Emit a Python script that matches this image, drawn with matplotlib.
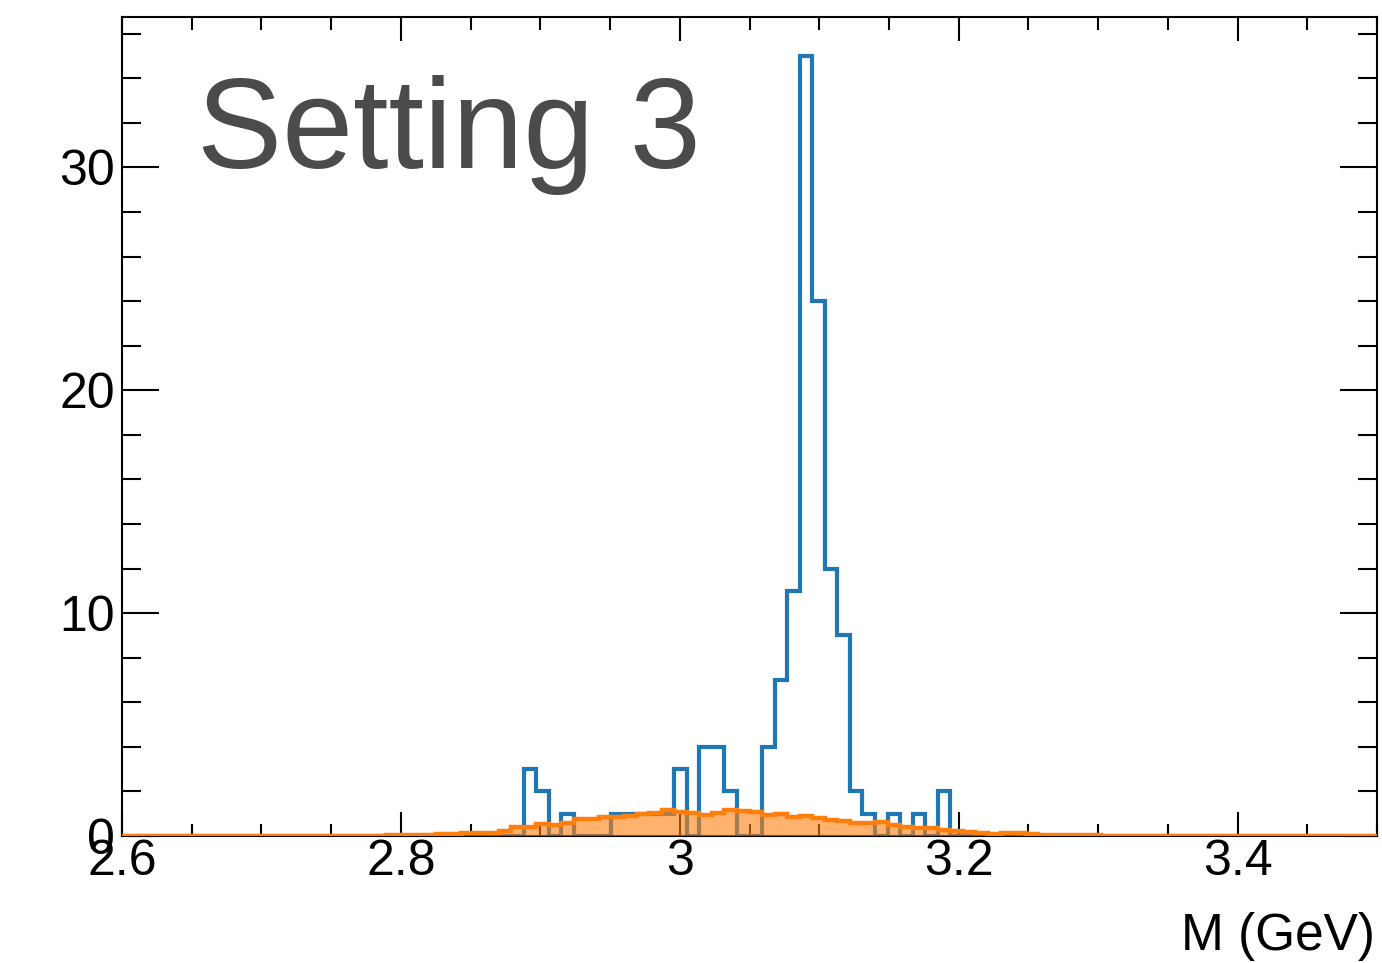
import numpy as np
import matplotlib
matplotlib.use('Agg')
import matplotlib.pyplot as plt
from matplotlib.ticker import MultipleLocator, FuncFormatter

plt.rcParams['font.family'] = ['Liberation Sans', 'DejaVu Sans']

# 100 bins between 2.6 and 3.5 GeV
edges = np.linspace(2.6, 3.5, 101)

# blue histogram (counts per bin)
data_counts = [0] * 32 + [
    3, 2, 0, 1, 0, 0, 0, 1, 1, 1,      # 32-41
    1, 1, 3, 0, 4, 4, 2, 0, 0, 4,      # 42-51
    7, 11, 35, 24, 12, 9, 2, 1, 0, 1,  # 52-61
    0, 1, 0, 2,                        # 62-65
] + [0] * 34

# orange filled histogram
model_vals = [0] * 15 + [
    0.005, 0.01, 0.01, 0.01, 0.02,      # 15-19
    0.02, 0.03, 0.04, 0.05, 0.05,       # 20-24
    0.08, 0.10, 0.12, 0.12, 0.15,       # 25-29
    0.24, 0.40, 0.42, 0.55, 0.50,       # 30-34
    0.60, 0.74, 0.78, 0.86, 0.86,       # 35-39
    0.90, 1.00, 1.01, 1.16, 1.08,       # 40-44
    1.02, 0.95, 1.04, 1.16, 1.12,       # 45-49
    1.06, 0.95, 1.00, 0.86, 0.90,       # 50-54
    0.80, 0.72, 0.69, 0.60, 0.60,       # 55-59
    0.62, 0.50, 0.40, 0.35, 0.34,       # 60-64
    0.29, 0.24, 0.20, 0.14, 0.10,       # 65-69
    0.14, 0.12, 0.08, 0.06, 0.04,       # 70-74
    0.04, 0.04, 0.03, 0.02, 0.02,       # 75-79
    0.01, 0.01, 0.01, 0.005, 0.005,     # 80-84
] + [0] * 15

blue = '#1f77b4'
orange = '#ff7f0e'

fig = plt.figure(figsize=(13.82, 9.63), dpi=100)
ax = fig.add_axes([0.0883, 0.1319, 0.9081, 0.8505])

ax.stairs(data_counts, edges, color=blue, lw=3.0, zorder=2)
ax.stairs(model_vals, edges, fill=True, color=orange, alpha=0.6, lw=0, zorder=3)
ax.stairs(model_vals, edges, color=orange, lw=3.2, zorder=4)

ax.set_xlim(2.6, 3.5)
ax.set_ylim(0, 36.75)

ax.xaxis.set_major_locator(MultipleLocator(0.2))
ax.xaxis.set_minor_locator(MultipleLocator(0.05))
ax.yaxis.set_major_locator(MultipleLocator(10))
ax.yaxis.set_minor_locator(MultipleLocator(2))
ax.xaxis.set_major_formatter(FuncFormatter(lambda v, p: '%g' % round(v, 2)))
ax.yaxis.set_major_formatter(FuncFormatter(lambda v, p: '%g' % v))

ax.tick_params(which='both', direction='in', top=True, right=True, width=1.5, labelsize=36)
ax.tick_params(axis='x', which='major', length=17, pad=2)
ax.tick_params(axis='x', which='minor', length=9)
ax.tick_params(axis='y', which='major', length=26.5, pad=5)
ax.tick_params(axis='y', which='minor', length=13.5)
for s in ax.spines.values():
    s.set_linewidth(1.5)

ax.text(0.06, 0.8156, 'Setting 3', transform=ax.transAxes, fontsize=92,
        color='#4a4b4d', ha='left', va='baseline')
ax.text(0.998, -0.1392, 'M (GeV)', transform=ax.transAxes, fontsize=37,
        ha='right', va='baseline')

fig.savefig('out.png', dpi=100)
